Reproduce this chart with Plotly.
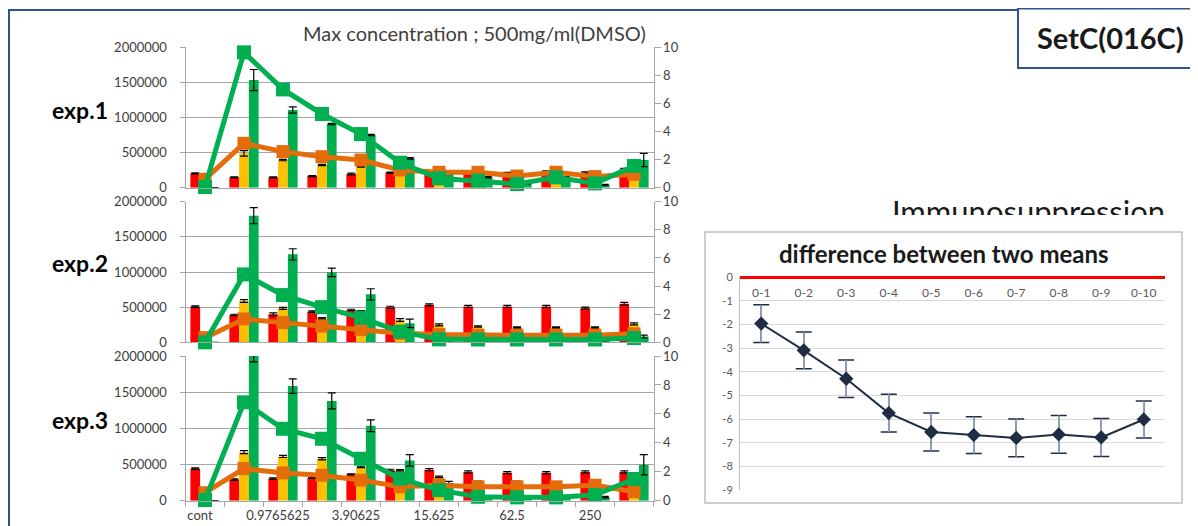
import plotly.graph_objects as go

# The page places the figure 8 px in from the top-left corner, so the
# figure is 8 px smaller and every position is measured from that corner.
OFF = 8
W, H = 1198 - OFF, 526 - OFF

# ---------------- data ----------------
categories = ["cont", "0.48828125", "0.9765625", "1.953125", "3.90625", "7.8125",
              "15.625", "31.25", "62.5", "125", "250", "500"]

# exp.1
exp1_red = [204000, 147000, 147000, 166000, 195000, 214000, 200000, 228000, 205000, 228000, 215000, 260000]
exp1_red_err = [8000, 6000, 6000, 8000, 12000, 8000, 10000, 12000, 12000, 12000, 12000, 15000]
exp1_yellow = [0, 489000, 394000, 323000, 299000, 200000, 120000, 120000, 100000, 120000, 110000, 133000]
exp1_yellow_err = [0, 38000, 10000, 8000, 8000, 8000, 8000, 8000, 8000, 8000, 8000, 8000]
exp1_green = [0, 1534000, 1106000, 907000, 750000, 418000, 228000, 150000, 60000, 150000, 38000, 395000]
exp1_green_err = [0, 150000, 45000, 10000, 10000, 10000, 10000, 10000, 10000, 10000, 10000, 95000]
exp1_orange_line = [0.6, 3.16, 2.57, 2.21, 1.97, 1.26, 1.1, 1.1, 0.83, 1.1, 0.79, 0.95]
exp1_green_line = [0.05, 9.64, 7.0, 5.25, 3.82, 1.78, 0.67, 0.5, 0.26, 0.74, 0.31, 1.55]

# exp.2
exp2_red = [507000, 389000, 398000, 436000, 460000, 498000, 533000, 510000, 510000, 510000, 486000, 548000]
exp2_red_err = [10000, 10000, 20000, 10000, 10000, 15000, 15000, 15000, 15000, 15000, 15000, 20000]
exp2_yellow = [0, 588000, 483000, 341000, 440000, 318000, 248000, 224000, 210000, 210000, 210000, 262000]
exp2_yellow_err = [0, 20000, 15000, 10000, 10000, 20000, 15000, 10000, 8000, 8000, 8000, 15000]
exp2_green = [0, 1801000, 1251000, 995000, 682000, 270000, 60000, 30000, 30000, 30000, 30000, 81000]
exp2_green_err = [0, 115000, 80000, 60000, 80000, 60000, 10000, 10000, 10000, 10000, 10000, 20000]
exp2_orange_line = [0.33, 1.66, 1.4, 1.16, 0.92, 0.64, 0.55, 0.5, 0.5, 0.5, 0.5, 0.6]
exp2_green_line = [0.0, 4.83, 3.36, 2.5, 1.75, 0.76, 0.21, 0.2, 0.2, 0.2, 0.2, 0.3]

# exp.3
exp3_red = [443000, 292000, 306000, 315000, 365000, 420000, 429000, 397000, 388000, 388000, 397000, 397000]
exp3_red_err = [10000, 10000, 10000, 6000, 6000, 15000, 15000, 15000, 15000, 15000, 15000, 15000]
exp3_yellow = [0, 671000, 612000, 580000, 466000, 420000, 329000, 260000, 260000, 228000, 283000, 123000]
exp3_yellow_err = [0, 20000, 15000, 15000, 10000, 10000, 10000, 10000, 10000, 10000, 10000, 10000]
exp3_green = [0, 2100000, 1584000, 1379000, 1036000, 557000, 246000, 50000, 50000, 50000, 50000, 498000]
exp3_green_err = [0, 180000, 100000, 110000, 80000, 80000, 20000, 10000, 10000, 10000, 10000, 140000]
exp3_orange_line = [0.55, 2.22, 1.92, 1.76, 1.42, 0.96, 1.07, 0.96, 0.96, 0.96, 1.07, 0.62]
exp3_green_line = [0.05, 6.8, 4.97, 4.28, 2.9, 1.53, 0.73, 0.27, 0.23, 0.23, 0.39, 1.5]

left_ticks = [0, 500000, 1000000, 1500000, 2000000]
right_ticks = [0, 2, 4, 6, 8, 10]

# difference between two means
diff_categories = ["0-1", "0-2", "0-3", "0-4", "0-5", "0-6", "0-7", "0-8", "0-9", "0-10"]
diff_means = [-1.97, -3.1, -4.3, -5.75, -6.55, -6.68, -6.8, -6.65, -6.78, -6.02]
diff_err = [0.8, 0.78, 0.79, 0.8, 0.8, 0.78, 0.8, 0.8, 0.8, 0.78]
diff_ticks = [0, -1, -2, -3, -4, -5, -6, -7, -8, -9]

heading_text = "Immunosuppression"

# ---------------- helpers ----------------
def fx(px):
    return (px - OFF) / W

def fy(py):
    return 1 - (py - OFF) / H

RED = "#ff0000"
YELLOW = "#ffc000"
GREEN = "#00b050"
ORANGE = "#e46c0a"
GRID = "#a6a6a6"
TXT = "#404040"
FONT = "Lato"

fig = go.Figure()

panels = [
    (exp1_red, exp1_red_err, exp1_yellow, exp1_yellow_err, exp1_green, exp1_green_err, exp1_orange_line, exp1_green_line),
    (exp2_red, exp2_red_err, exp2_yellow, exp2_yellow_err, exp2_green, exp2_green_err, exp2_orange_line, exp2_green_line),
    (exp3_red, exp3_red_err, exp3_yellow, exp3_yellow_err, exp3_green, exp3_green_err, exp3_orange_line, exp3_green_line),
]
panel_px = [(47.3, 187.7), (201.7, 342.3), (356.0, 500.7)]
xpos = list(range(len(categories)))

for i, (r, re, yv, ye, g, ge, ol, gl) in enumerate(panels):
    xa = "x" if i == 0 else f"x{i+1}"
    ya = f"y{2*i+1}" if i > 0 else "y"
    ya2 = f"y{2*i+2}"
    for vals, errs, col in [(r, re, RED), (yv, ye, YELLOW), (g, ge, GREEN)]:
        fig.add_trace(go.Bar(
            x=xpos, y=vals, marker=dict(color=col, line=dict(width=0)),
            error_y=dict(type="data", array=errs, color="#000000", thickness=1.2, width=4),
            xaxis=xa, yaxis=ya, showlegend=False, cliponaxis=True))
    fig.add_trace(go.Scatter(
        x=xpos, y=ol, mode="lines+markers",
        line=dict(color=ORANGE, width=5),
        marker=dict(symbol="square", size=13, color=ORANGE),
        xaxis=xa, yaxis=ya2, showlegend=False, cliponaxis=False))
    fig.add_trace(go.Scatter(
        x=xpos, y=gl, mode="lines+markers",
        line=dict(color=GREEN, width=5),
        marker=dict(symbol="square", size=14, color=GREEN),
        xaxis=xa, yaxis=ya2, showlegend=False, cliponaxis=False))

# diff chart: caps (dark) then stems (light) on top
fig.add_trace(go.Scatter(
    x=diff_categories, y=diff_means, mode="markers",
    marker=dict(size=1, color="rgba(0,0,0,0)"),
    error_y=dict(type="data", array=diff_err, color="#1f2d44", thickness=1.5, width=8),
    xaxis="x4", yaxis="y7", showlegend=False))
fig.add_trace(go.Scatter(
    x=diff_categories, y=diff_means, mode="lines+markers",
    line=dict(color="#1f2d44", width=2),
    marker=dict(symbol="diamond", size=11, color="#1f2d44"),
    error_y=dict(type="data", array=diff_err, color="#8fa0b8", thickness=1.6, width=0),
    xaxis="x4", yaxis="y7", showlegend=False))

# partly hidden heading: a text clipped by its own (invisible) plotting area
HEAD_TOP, HEAD_CUT = 190.0, 215.0
head_center_px = 215.5
fig.add_trace(go.Scatter(
    x=[0.5], y=[(HEAD_CUT - head_center_px) / (HEAD_CUT - HEAD_TOP)],
    mode="text", text=[heading_text], textposition="middle center",
    textfont=dict(size=31, color="#1a1a1a", family=FONT),
    cliponaxis=True, hoverinfo="skip", showlegend=False,
    xaxis="x5", yaxis="y8"))

layout = dict(
    width=W, height=H,
    margin=dict(l=0, r=0, t=0, b=0, pad=0, autoexpand=False),
    paper_bgcolor="white", plot_bgcolor="rgba(0,0,0,0)",
    barmode="group", bargap=0.25, bargroupgap=0,
    font=dict(family=FONT, color=TXT),
    showlegend=False,
)

xdom = [fx(185.5), fx(653.5)]
for i, (top, bot) in enumerate(panel_px):
    xname = "xaxis" if i == 0 else f"xaxis{i+1}"
    yname = "yaxis" if i == 0 else f"yaxis{2*i+1}"
    y2name = f"yaxis{2*i+2}"
    ya = "y" if i == 0 else f"y{2*i+1}"
    xa = "x" if i == 0 else f"x{i+1}"
    xaxis = dict(domain=xdom, anchor=ya, range=[-0.5, len(categories) - 0.5],
                 showline=True, linecolor=GRID, linewidth=1, showgrid=False,
                 zeroline=False, showticklabels=False, ticks="", fixedrange=True,
                 automargin=False)
    if i == 2:
        xaxis.update(showticklabels=True, tickvals=xpos[::2], ticktext=categories[::2],
                     tickfont=dict(size=13, color=TXT, family=FONT), ticklabelstandoff=3,
                     ticklabelshift=-5,
                     minor=dict(ticks="outside", tickmode="linear", tick0=-0.5, dtick=1,
                                ticklen=5, tickcolor=GRID, showgrid=False))
    layout[xname] = xaxis
    layout[yname] = dict(domain=[fy(bot), fy(top)], anchor=xa, range=[0, 2000000],
                         tickvals=left_ticks, ticktext=[str(v) for v in left_ticks],
                         showgrid=True, gridcolor=GRID, gridwidth=1,
                         showline=True, linecolor=GRID, ticks="outside", ticklen=5,
                         tickcolor=GRID, zeroline=False, automargin=False,
                         ticklabelstandoff=10,
                         tickfont=dict(size=13, color=TXT, family=FONT))
    layout[y2name] = dict(domain=[fy(bot), fy(top)], anchor=xa, overlaying=ya, side="right",
                          range=[0, 10], tickvals=right_ticks,
                          showgrid=False, showline=True, linecolor=GRID,
                          ticks="outside", ticklen=6, tickcolor=GRID, zeroline=False,
                          automargin=False,
                          tickfont=dict(size=13, color=TXT, family=FONT))

layout["xaxis4"] = dict(domain=[fx(740), fx(1165)], anchor="free", position=fy(277),
                        type="category",
                        categoryorder="array", categoryarray=diff_categories,
                        range=[-0.5, len(diff_categories) - 0.5],
                        side="bottom", ticks="", ticklabelstandoff=4,
                        showline=True, linecolor="#ff0000", linewidth=3,
                        showgrid=False, zeroline=False, automargin=False,
                        tickfont=dict(size=12, color="#595959", family=FONT))
layout["yaxis7"] = dict(domain=[fy(490), fy(277)], anchor="x4", range=[-9, 0],
                        tickvals=diff_ticks, ticktext=[str(v) for v in diff_ticks],
                        showgrid=True, gridcolor="#d9d9d9", gridwidth=1,
                        showline=True, linecolor="#bfbfbf", ticks="", zeroline=False,
                        ticklabelstandoff=4, automargin=False,
                        tickfont=dict(size=11, color="#595959", family=FONT))
layout["xaxis5"] = dict(domain=[fx(878.5), fx(1178.5)], anchor="y8", range=[0, 1],
                        visible=False, automargin=False)
layout["yaxis8"] = dict(domain=[fy(HEAD_CUT), fy(HEAD_TOP)], anchor="x5", range=[0, 1],
                        visible=False, automargin=False)

fig.update_layout(**layout)

BLUE = "#2f5496"
shapes = [
    # outer frame (top and left edges)
    dict(type="path", xref="paper", yref="paper",
         path=f"M {fx(1018)},{fy(10)} L {fx(9)},{fy(10)} L {fx(9)},{fy(540)}",
         line=dict(color=BLUE, width=2), layer="below"),
    # SetC box
    dict(type="rect", xref="paper", yref="paper", x0=fx(1018), x1=fx(1205), y0=fy(68), y1=fy(8.5),
         line=dict(color=BLUE, width=2), fillcolor="white", layer="below"),
    # diff chart frame
    dict(type="rect", xref="paper", yref="paper", x0=fx(705), x1=fx(1182), y0=fy(503), y1=fy(232),
         line=dict(color="#bfbfbf", width=1.5), fillcolor="white", layer="below"),
]
fig.update_layout(shapes=shapes)

annotations = [
    dict(text="Max concentration ; 500mg/ml(DMSO)", x=fx(474), y=fy(33), xref="paper", yref="paper",
         showarrow=False, font=dict(size=20, color=TXT, family=FONT), xanchor="center", yanchor="middle"),
    dict(text="<b>exp.1</b>", x=fx(80), y=fy(110), xref="paper", yref="paper", showarrow=False,
         font=dict(size=23, color="#000000", family=FONT), xanchor="center", yanchor="middle"),
    dict(text="<b>exp.2</b>", x=fx(80), y=fy(263), xref="paper", yref="paper", showarrow=False,
         font=dict(size=23, color="#000000", family=FONT), xanchor="center", yanchor="middle"),
    dict(text="<b>exp.3</b>", x=fx(80), y=fy(420), xref="paper", yref="paper", showarrow=False,
         font=dict(size=23, color="#000000", family=FONT), xanchor="center", yanchor="middle"),
    dict(text="<b>SetC(016C)</b>", x=fx(1110), y=fy(38), xref="paper", yref="paper", showarrow=False,
         font=dict(size=29, color="#1a1a1a", family=FONT), xanchor="center", yanchor="middle"),
    dict(text="<b>difference between two means</b>", x=fx(944), y=fy(253), xref="paper", yref="paper",
         showarrow=False, font=dict(size=24, color="#1a1a1a", family=FONT), xanchor="center", yanchor="middle"),
]
fig.update_layout(annotations=annotations)

fig.write_html("out.html")
